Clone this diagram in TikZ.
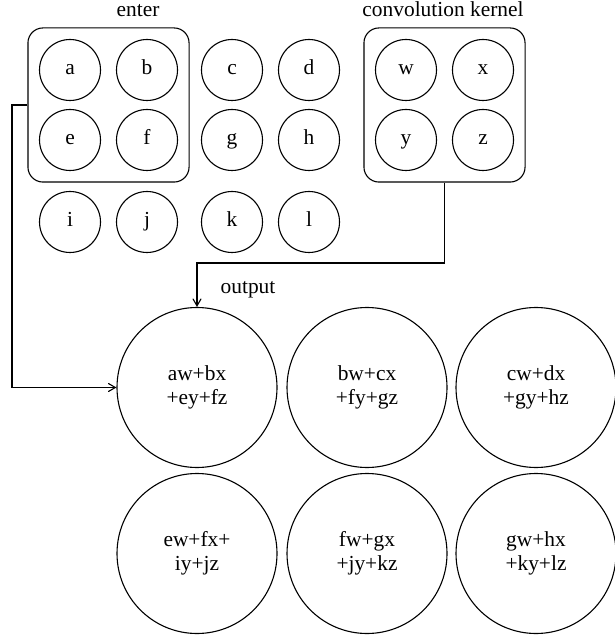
\documentclass[tikz,border=0pt]{standalone}
\usepackage{fontspec}
\setmainfont{Liberation Serif}
\usepackage{tikz}
\usetikzlibrary{shapes}
\usetikzlibrary{arrows}
\usetikzlibrary{positioning}
\usetikzlibrary{fit}
\tikzstyle{cell} = [circle, draw, minimum size=30.5pt, inner sep=0pt, text height=6.5pt, text depth=1.5pt]
\tikzstyle{sum} = [circle, draw, minimum size=80pt, inner sep=0pt, align=center]
\tikzstyle{group} = [draw, rounded corners=7.5pt, inner sep=5.5pt]

\begin{document}
\begin{tikzpicture}[
        x=0.5pt, y=-0.5pt,
        line width=0.55pt,
        every node/.style={font=\fontsize{10.7}{12}\selectfont},
        node distance=38.5pt
    ]
    \useasboundingbox (0,0) rectangle (614,635);
    % input matrix
    \node [cell] (a) at (70,70) {a};
    \node [cell, right of=a] (b) {b};
    \node [cell, right of=b, node distance=42.5pt] (c) {c};
    \node [cell, right of=c] (d) {d};
    \node [cell, below of=a, node distance=35pt] (e) {e};
    \node [cell, right of=e] (f) {f};
    \node [cell, right of=f, node distance=42.5pt] (g) {g};
    \node [cell, right of=g] (h) {h};
    \node [cell, below of=e, node distance=41pt] (i) {i};
    \node [cell, right of=i] (j) {j};
    \node [cell, right of=j, node distance=42.5pt] (k) {k};
    \node [cell, right of=k] (l) {l};
    \node [group, fit=(a) (f)] (window) {};
    % kernel
    \node [cell] (w) at (406,70) {w};
    \node [cell, right of=w] (x) {x};
    \node [cell, below of=w, node distance=35pt] (y) {y};
    \node [cell, right of=y] (z) {z};
    \node [group, fit=(w) (z)] (kernel) {};
    % output map
    \node [sum] (o1) at (197,387.5) {aw+bx\\+ey+fz};
    \node [sum, right of=o1, node distance=85pt] (o2) {bw+cx\\+fy+gz};
    \node [sum, right of=o2, node distance=84.5pt] (o3) {cw+dx\\+gy+hz};
    \node [sum, below of=o1, node distance=83pt] (o4) {ew+fx+\\iy+jz};
    \node [sum, right of=o4, node distance=85pt] (o5) {fw+gx\\+jy+kz};
    \node [sum, right of=o5, node distance=84.5pt] (o6) {gw+hx\\+ky+lz};
    % captions
    \node [anchor=base] (enterlbl) at (138,17) {enter};
    \node [anchor=base] (kernellbl) at (443,17) {convolution kernel};
    \node [anchor=base] (outlbl) at (248,293) {output};
    % links
    \coordinate (lbend) at (12,0);
    \coordinate (kbend) at (0,263);
    \draw [-angle 60] (window.west) -| (lbend |- o1.west) -- (o1.west);
    \draw [-angle 60] (kernel.south) |- (kbend -| o1.north) -- (o1.north);
\end{tikzpicture}
\end{document}
